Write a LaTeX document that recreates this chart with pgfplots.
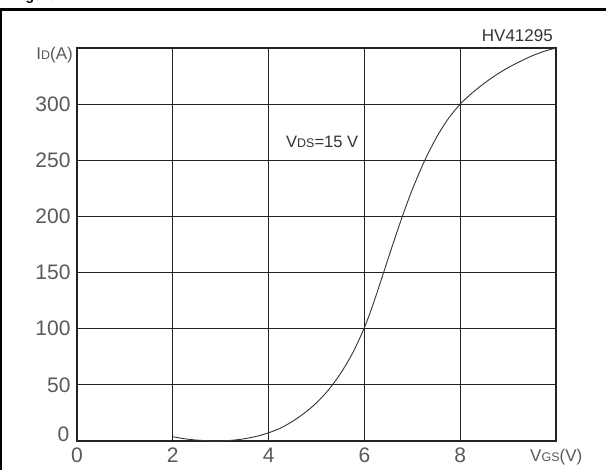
\documentclass[border=0pt]{standalone}
\usepackage{pgfplots}
\pgfplotsset{compat=1.18}
\usepackage{fontspec}
\setmainfont{Liberation Sans}
\definecolor{lbl}{HTML}{595959}
\definecolor{dk}{HTML}{333333}
\definecolor{gridc}{HTML}{222222}
\newcommand{\sm}[1]{{\fontsize{12.5bp}{14bp}\selectfont #1}}
\begin{document}
\begin{tikzpicture}[x=1bp,y=1bp]
\useasboundingbox (0,0) rectangle (606,470);
\draw[line width=2.3bp,black] (1,0) -- (1,460.5) -- (606,460.5);
\node[anchor=base west, inner sep=0pt, font=\bfseries\fontsize{14bp}{16bp}\selectfont] at (13,469.5) {Figure};
\begin{axis}[
  at={(77bp,29bp)}, anchor=south west,
  width=479bp, height=393bp, scale only axis,
  xmin=0, xmax=10, ymin=0, ymax=350,
  xtick={0,2,4,6,8,10}, xticklabels={0,2,4,6,8,{}},
  ytick={0,50,100,150,200,250,300,350},
  yticklabels={{},50,100,150,200,250,300,{}},
  major tick length=0pt,
  grid=major,
  major grid style={gridc, line width=1bp},
  axis line style={gridc, line width=2.2bp},
  /pgf/number format/assume math mode=true,
  ticklabel style={font=\fontsize{21bp}{25bp}\selectfont, text=lbl, inner sep=0pt},
  xticklabel style={anchor=north, yshift=-7bp},
  yticklabel style={anchor=east, xshift=-6.3bp},
  clip=false,
]
\addplot[smooth, dk, line width=0.9bp] coordinates {
(2.0,3.8) (2.2,2.3) (2.4,1.2) (2.6,0.5) (2.8,0.1) (3.0,0.1) (3.2,0.5) (3.4,1.4)
(3.6,2.8) (3.8,4.7) (4.0,7.3) (4.25,11.5) (4.5,17.5) (4.75,25) (5.0,34)
(5.25,45.5) (5.5,60) (5.75,78) (6.0,101) (6.2,124) (6.4,150) (6.6,176)
(6.8,201) (7.0,224) (7.25,249) (7.5,270) (7.75,287) (8.0,300) (8.25,310)
(8.5,318.5) (8.75,326) (9.0,332.5) (9.25,338) (9.5,343) (9.75,347) (10,350)
};
\end{axis}
\node[anchor=base east, inner sep=0pt, text=lbl, font=\fontsize{21bp}{25bp}\selectfont] at (69.5,28.3) {0};
\node[anchor=base east, inner sep=0pt, text=lbl, font=\fontsize{17bp}{20bp}\selectfont] at (73,410.7) {I\sm{D}(A)};
\node[anchor=base east, inner sep=0pt, text=dk, font=\fontsize{17bp}{20bp}\selectfont] at (553,428.3) {HV41295};
\node[anchor=base west, inner sep=0pt, text=dk, font=\fontsize{16.5bp}{20bp}\selectfont] at (286,322.7) {V\sm{DS}=15 V};
\node[anchor=base west, inner sep=0pt, text=lbl, font=\fontsize{17bp}{20bp}\selectfont] at (530,8.3) {V\sm{GS}(V)};
\end{tikzpicture}
\end{document}
